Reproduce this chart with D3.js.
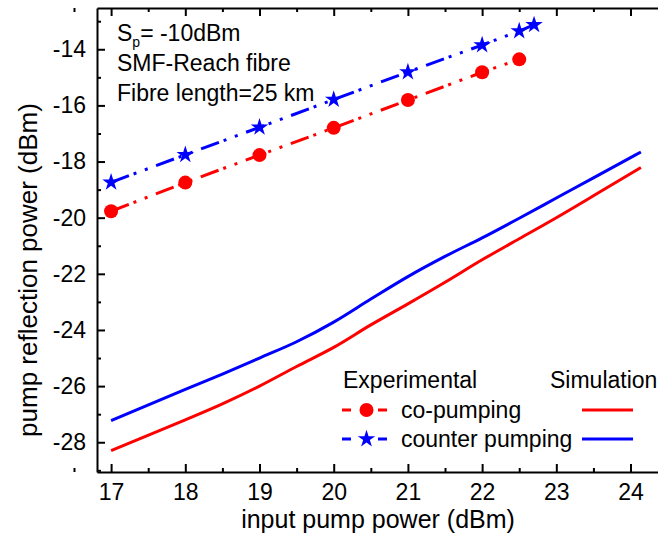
<!DOCTYPE html>
<html>
<head>
<meta charset="utf-8">
<script src="https://cdn.jsdelivr.net/npm/d3@7"></script>
<style>
  html, body { margin: 0; padding: 0; background: #fff; }
  svg { display: block; font-family: Arial, "Liberation Sans", Helvetica, sans-serif; }
</style>
</head>
<body>
<svg id="chart" width="658" height="533"></svg>
<script>
// ---- data ----
const coPumpX = [17, 18, 19, 20, 21, 22, 22.5];
const coPumpY = [-19.77, -18.75, -17.77, -16.8, -15.81, -14.82, -14.36];

const counterPumpX = [17, 18, 19, 20, 21, 22, 22.5, 22.7];
const counterPumpY = [-18.74, -17.76, -16.78, -15.79, -14.81, -13.85, -13.35, -13.13];

const simX = [17, 18, 18.5, 19, 19.5, 20, 20.5, 21, 21.5, 22, 22.5, 23, 23.5, 24.14];
const simCoY = [-28.3, -27.2, -26.63, -26.0, -25.3, -24.62, -23.82, -23.07, -22.3, -21.5, -20.75, -20.0, -19.22, -18.21];
const simCounterY = [-27.23, -26.12, -25.57, -25.0, -24.42, -23.72, -22.9, -22.1, -21.38, -20.72, -20.02, -19.3, -18.58, -17.66];

const xTicks = [17, 18, 19, 20, 21, 22, 23, 24];
const xMinorTicks = [16.5, 17.5, 18.5, 19.5, 20.5, 21.5, 22.5, 23.5, 24.5];
const yTicks = [-28, -26, -24, -22, -20, -18, -16, -14];
const yMinorTicks = [-29, -27, -25, -23, -21, -19, -17, -15, -13];

const xTitle = "input pump power (dBm)";
const yTitle = "pump reflection power (dBm)";
const annotLines = ["SMF-Reach fibre", "Fibre length=25 km"];

// ---- layout ----
const svg = d3.select("#chart");
const padL = 97, padT = 8, padB = 472, padR = 668;
const x = d3.scaleLinear().domain([16.81, 24.505]).range([padL, padR]);
const y = d3.scaleLinear().domain([-29.06, -12.53]).range([padB, padT]);

const RED = "#ff0000", BLUE = "#0000ff";
const FS = 23;

// ---- axes ----
function styleAxis(g) {
  g.selectAll("path.domain").attr("stroke", "#000").attr("stroke-width", 2);
  g.selectAll(".tick line").attr("stroke", "#000").attr("stroke-width", 2);
  g.selectAll(".tick text").attr("fill", "#000").style("font-size", FS + "px")
    .style("font-family", "Arial, 'Liberation Sans', sans-serif");
}

// bottom
const gx = svg.append("g").attr("transform", `translate(0,${padB})`)
  .call(d3.axisBottom(x).tickValues(xTicks).tickFormat(d3.format("d"))
    .tickSizeInner(-8).tickSizeOuter(0).tickPadding(12));
styleAxis(gx);
const gxm = svg.append("g").attr("transform", `translate(0,${padB})`)
  .call(d3.axisBottom(x).tickValues(xMinorTicks).tickFormat("")
    .tickSizeInner(-4).tickSizeOuter(0));
styleAxis(gxm);
gxm.select("path.domain").remove();

// top
const gt = svg.append("g").attr("transform", `translate(0,${padT})`)
  .call(d3.axisTop(x).tickValues(xTicks).tickFormat("")
    .tickSizeInner(-8).tickSizeOuter(0));
styleAxis(gt);
const gtm = svg.append("g").attr("transform", `translate(0,${padT})`)
  .call(d3.axisTop(x).tickValues(xMinorTicks).tickFormat("")
    .tickSizeInner(-4).tickSizeOuter(0));
styleAxis(gtm);
gtm.select("path.domain").remove();

// left
const gy = svg.append("g").attr("transform", `translate(${padL},0)`)
  .call(d3.axisLeft(y).tickValues(yTicks).tickFormat(d => String(d))
    .tickSizeInner(-8).tickSizeOuter(0).tickPadding(11));
styleAxis(gy);
const gym = svg.append("g").attr("transform", `translate(${padL},0)`)
  .call(d3.axisLeft(y).tickValues(yMinorTicks).tickFormat("")
    .tickSizeInner(-4).tickSizeOuter(0));
styleAxis(gym);
gym.select("path.domain").remove();

// ---- titles ----
svg.append("text").attr("x", 378).attr("y", 528).attr("text-anchor", "middle")
  .style("font-size", "25px").attr("fill", "#000").text(xTitle);
svg.append("text").attr("transform", "translate(37,270) rotate(-90)").attr("text-anchor", "middle")
  .style("font-size", "26px").attr("fill", "#000").text(yTitle);

// ---- annotation ----
const a1 = svg.append("text").attr("x", 117).attr("y", 40.5).style("font-size", FS + "px").attr("fill", "#000");
a1.append("tspan").text("S");
a1.append("tspan").attr("dy", 6).style("font-size", "14px").text("p");
a1.append("tspan").attr("dy", -6).text("= -10dBm");
annotLines.forEach((t, i) => {
  svg.append("text").attr("x", 117).attr("y", 71 + i * 29.5).style("font-size", FS + "px")
    .attr("fill", "#000").text(t);
});

// ---- lines ----
const simLine = (ys) => d3.line().x((d, i) => x(simX[i])).y((d, i) => y(ys[i])).curve(d3.curveMonotoneX)(ys);
svg.append("path").attr("d", simLine(simCounterY)).attr("fill", "none").attr("stroke", BLUE).attr("stroke-width", 3);
svg.append("path").attr("d", simLine(simCoY)).attr("fill", "none").attr("stroke", RED).attr("stroke-width", 3);

const expLine = (xs, ys) => d3.line().x((d, i) => x(xs[i])).y((d, i) => y(ys[i]))(ys);
const DASH = "19,5,3,9,3,9";
svg.append("path").attr("d", expLine(counterPumpX, counterPumpY)).attr("fill", "none")
  .attr("stroke", BLUE).attr("stroke-width", 3).attr("stroke-dasharray", DASH);
svg.append("path").attr("d", expLine(coPumpX, coPumpY)).attr("fill", "none")
  .attr("stroke", RED).attr("stroke-width", 3).attr("stroke-dasharray", DASH);

const star = d3.symbol().type(d3.symbolStar).size(95);
svg.append("g").selectAll("path").data(counterPumpY).join("path")
  .attr("transform", (d, i) => `translate(${x(counterPumpX[i])},${y(d)})`)
  .attr("d", star).attr("fill", BLUE);
svg.append("g").selectAll("circle").data(coPumpY).join("circle")
  .attr("cx", (d, i) => x(coPumpX[i])).attr("cy", d => y(d)).attr("r", 7).attr("fill", RED);

// ---- legend ----
const lg = svg.append("g");
lg.append("text").attr("x", 343).attr("y", 388).style("font-size", FS + "px").text("Experimental");
lg.append("text").attr("x", 550).attr("y", 388).style("font-size", FS + "px").text("Simulation");
const rows = [
  { label: "co-pumping", color: RED, y: 410, marker: "circle" },
  { label: "counter pumping", color: BLUE, y: 439, marker: "star" }
];
rows.forEach(r => {
  lg.append("line").attr("x1", 342).attr("x2", 387).attr("y1", r.y).attr("y2", r.y)
    .attr("stroke", r.color).attr("stroke-width", 3).attr("stroke-dasharray", "9,27,9");
  if (r.marker === "circle") {
    lg.append("circle").attr("cx", 366.5).attr("cy", r.y).attr("r", 7).attr("fill", r.color);
  } else {
    lg.append("path").attr("transform", `translate(366.5,${r.y})`).attr("d", star).attr("fill", r.color);
  }
  lg.append("text").attr("x", 401).attr("y", r.y + 7.5).style("font-size", FS + "px").text(r.label);
  lg.append("line").attr("x1", 582).attr("x2", 633).attr("y1", r.y).attr("y2", r.y)
    .attr("stroke", r.color).attr("stroke-width", 3);
});
</script>
</body>
</html>
